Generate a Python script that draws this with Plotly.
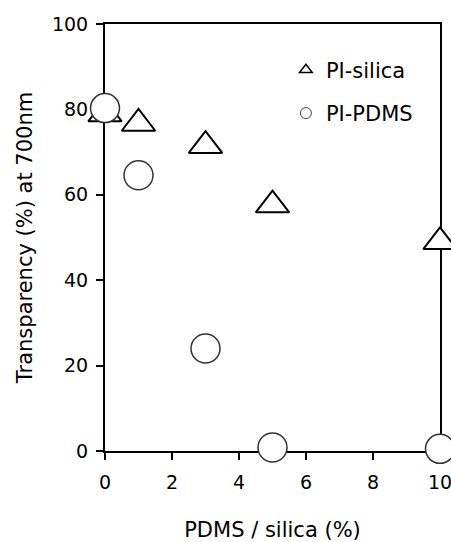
import plotly.graph_objects as go

# Data
x_vals = [0, 1, 3, 5, 10]
pi_silica = [78.9, 76.7, 71.5, 57.6, 49.0]
pi_pdms = [80.3, 64.6, 24.0, 0.8, 0.5]

x_ticks = [0, 2, 4, 6, 8, 10]
y_ticks = [0, 20, 40, 60, 80, 100]

FONT = "DejaVu Sans"

fig = go.Figure()

# Main markers (no legend)
fig.add_trace(go.Scatter(
    x=x_vals, y=pi_silica, mode="markers", name="PI-silica", showlegend=False,
    cliponaxis=False,
    marker=dict(symbol="triangle-up", size=29, color="white",
                line=dict(color="black", width=2)),
))
fig.add_trace(go.Scatter(
    x=x_vals, y=pi_pdms, mode="markers", name="PI-PDMS", showlegend=False,
    cliponaxis=False,
    marker=dict(symbol="circle", size=29, color="white",
                line=dict(color="#333333", width=1.5)),
))

# Legend entries with small markers
fig.add_trace(go.Scatter(
    x=[None], y=[None], mode="markers", name="PI-silica", legendgroup="a",
    marker=dict(symbol="triangle-up", size=11, color="white",
                line=dict(color="black", width=1.5)),
))
fig.add_trace(go.Scatter(
    x=[None], y=[None], mode="markers", name="PI-PDMS", legendgroup="b",
    marker=dict(symbol="circle", size=11, color="white",
                line=dict(color="#444444", width=1)),
))

axis_common = dict(
    showline=True, linecolor="black", linewidth=2, mirror=True,
    ticks="outside", ticklen=7, tickwidth=2, tickcolor="black",
    showgrid=False, zeroline=False, layer="below traces",
    ticklabeloverflow="allow",
    tickfont=dict(family=FONT, size=19, color="black"),
)

fig.update_xaxes(
    range=[0, 10], tickvals=x_ticks, ticktext=[str(v) for v in x_ticks],
    ticklabelstandoff=6,
    title=dict(text="PDMS / silica (%)", font=dict(family=FONT, size=21, color="black"),
               standoff=32),
    **axis_common,
)
fig.update_yaxes(
    range=[0, 100], tickvals=y_ticks, ticktext=[str(v) for v in y_ticks],
    ticklabelstandoff=4,
    title=dict(text="Transparency (%) at 700nm", font=dict(family=FONT, size=21, color="black"),
               standoff=14),
    **axis_common,
)

fig.update_layout(
    width=451, height=542,
    margin=dict(l=105, r=11, t=24, b=91, autoexpand=False),
    paper_bgcolor="white", plot_bgcolor="white",
    font=dict(family=FONT, color="black"),
    legend=dict(
        x=0.54, y=0.94, xanchor="left", yanchor="top",
        bgcolor="rgba(0,0,0,0)", borderwidth=0,
        font=dict(family=FONT, size=21, color="black"),
        traceorder="grouped", tracegroupgap=13, itemwidth=30,
    ),
)

fig.write_html("out.html", config={"displayModeBar": False},
               post_script="document.body.style.margin='0';")
